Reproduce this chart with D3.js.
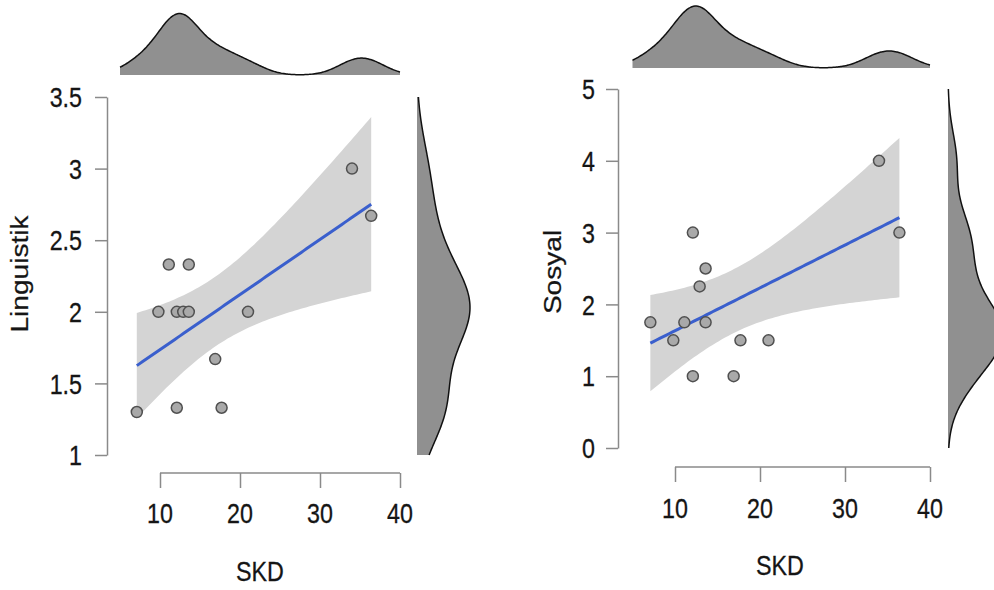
<!DOCTYPE html>
<html>
<head>
<meta charset="utf-8">
<script src="https://cdn.jsdelivr.net/npm/d3@7/dist/d3.min.js"></script>
<style>
  html, body { margin: 0; padding: 0; background: #ffffff; }
  svg { display: block; }
  text { font-family: "Liberation Sans", Arial, Helvetica, sans-serif; fill: #151515; }
</style>
</head>
<body>
<svg id="chart" width="994" height="590"></svg>
<script>
// ---- data ----
const skd        = [7.1, 9.8, 11.1, 12.1, 12.1, 12.9, 13.6, 13.6, 16.9, 17.7, 21.0, 34.0, 36.4];
const linguistik = [1.30, 2.00, 2.33, 2.00, 1.33, 2.00, 2.33, 2.00, 1.67, 1.33, 2.00, 3.00, 2.67];
const sosyal     = [1.75, 1.50, 1.75, 3.00, 1.00, 2.25, 2.50, 1.75, 1.00, 1.50, 1.50, 4.00, 3.00];
const xTicks     = [10, 20, 30, 40];
const yTicksLing = [1, 1.5, 2, 2.5, 3, 3.5];
const yTicksSos  = [0, 1, 2, 3, 4, 5];
const xLabel = "SKD";

const svg = d3.select("#chart");
const SX = 0.97, SY = 1.17, FS = 24;
const axisColor = "#8a8a8a";

function label(g, x, y, str, anchor, rot) {
  g.append("text")
    .attr("transform", `translate(${x},${y}) scale(${SX},${SY})` + (rot ? " rotate(-90)" : ""))
    .attr("text-anchor", anchor)
    .attr("dy", "0.36em")
    .style("font-size", FS + "px")
    .style("stroke", "#151515")
    .style("stroke-width", 0.25)
    .text(str);
}

// R bw.nrd0
function bwNrd0(v) {
  const s = d3.sort(v);
  const sd = d3.deviation(s);
  const iqr = d3.quantile(s, 0.75) - d3.quantile(s, 0.25);
  const lo = Math.min(sd, iqr / 1.34);
  return 0.9 * lo * Math.pow(v.length, -0.2);
}
function kde(v, lo, hi, n) {
  const bw = bwNrd0(v);
  const k = 1 / (v.length * bw * Math.sqrt(2 * Math.PI));
  return d3.range(n + 1).map(i => {
    const x = lo + (hi - lo) * i / n;
    const d = d3.sum(v, xi => Math.exp(-0.5 * ((x - xi) / bw) ** 2)) * k;
    return [x, d];
  });
}

function panel(cfg) {
  const g = svg.append("g");
  const x = d3.scaleLinear().domain([5, 40]).range(cfg.xRange);
  const y = d3.scaleLinear().domain(cfg.yDomain).range(cfg.yRange);
  const ys = cfg.yVals;

  // regression + 95% CI
  const mx = d3.mean(skd), my = d3.mean(ys);
  const sxx = d3.sum(skd, v => (v - mx) ** 2);
  const sxy = d3.sum(skd, (v, i) => (v - mx) * (ys[i] - my));
  const b = sxy / sxx, a = my - b * mx;
  const n = skd.length;
  const s = Math.sqrt(d3.sum(skd, (v, i) => (ys[i] - (a + b * v)) ** 2) / (n - 2));
  const tq = 2.201; // t(0.975, df = 11)
  const x0 = d3.min(skd), x1 = d3.max(skd);
  const grid = d3.range(81).map(i => x0 + (x1 - x0) * i / 80);
  const band = grid.map(v => {
    const fit = a + b * v;
    const se = s * Math.sqrt(1 / n + (v - mx) ** 2 / sxx);
    return { v, fit, lo: fit - tq * se, hi: fit + tq * se };
  });

  g.append("path")
    .datum(band)
    .attr("d", d3.area().x(d => x(d.v)).y0(d => y(d.lo)).y1(d => y(d.hi)))
    .attr("fill", "#d4d4d4");

  g.append("path")
    .datum(band)
    .attr("d", d3.line().x(d => x(d.v)).y(d => y(d.fit)))
    .attr("fill", "none")
    .attr("stroke", "#3a5fcd")
    .attr("stroke-width", 3);

  g.selectAll("circle.pt")
    .data(skd.map((v, i) => [v, ys[i]]))
    .join("circle")
    .attr("class", "pt")
    .attr("cx", d => x(d[0]))
    .attr("cy", d => y(d[1]))
    .attr("r", 5.5)
    .attr("fill", "#a9a9a9")
    .attr("stroke", "#505050")
    .attr("stroke-width", 1.5);

  // y axis
  const yAx = g.append("g")
    .attr("transform", `translate(${cfg.yAxisX},0)`)
    .call(d3.axisLeft(y).tickValues(cfg.yTicks).tickSize(12).tickSizeOuter(0).tickFormat(() => ""));
  yAx.selectAll("path, line").attr("stroke", axisColor).attr("stroke-width", 1.5);
  cfg.yTicks.forEach(t => label(g, cfg.yLabelX, y(t), d3.format("~g")(t), "end"));

  // x axis
  const xAx = g.append("g")
    .attr("transform", `translate(0,${cfg.xAxisY})`)
    .call(d3.axisBottom(x).tickValues(xTicks).tickSize(15).tickSizeOuter(0).tickFormat(() => ""));
  xAx.select("path.domain").attr("d", `M${x(xTicks[0])},0H${x(xTicks[xTicks.length - 1])}`);
  xAx.selectAll("path, line").attr("stroke", axisColor).attr("stroke-width", 1.5);
  xTicks.forEach(t => label(g, x(t), cfg.xLabelY, String(t), "middle"));

  label(g, cfg.xTitle[0], cfg.xTitle[1], xLabel, "middle");
  label(g, cfg.yTitle[0], cfg.yTitle[1], cfg.yName, "middle", true);

  // top marginal density of SKD
  const dx = kde(skd, 5, 40, 200);
  const hx = d3.scaleLinear().domain([0, d3.max(dx, d => d[1])]).range([cfg.topBase, cfg.topBase - cfg.topH]);
  g.append("path").datum(dx)
    .attr("d", d3.area().x(d => x(d[0])).y0(cfg.topBase).y1(d => hx(d[1])).curve(d3.curveBasis))
    .attr("fill", "#909090");
  g.append("path").datum(dx)
    .attr("d", d3.line().x(d => x(d[0])).y(d => hx(d[1])).curve(d3.curveBasis))
    .attr("fill", "none").attr("stroke", "#111").attr("stroke-width", 1.5);

  // right marginal density of y
  const dy = kde(ys, cfg.yDomain[0], cfg.yDomain[1], 200);
  const wy = d3.scaleLinear().domain([0, d3.max(dy, d => d[1])]).range([cfg.rightBase, cfg.rightBase + cfg.rightW]);
  g.append("path").datum(dy)
    .attr("d", d3.area().y(d => y(d[0])).x0(cfg.rightBase).x1(d => wy(d[1])).curve(d3.curveBasis))
    .attr("fill", "#909090");
  g.append("path").datum(dy)
    .attr("d", d3.line().y(d => y(d[0])).x(d => wy(d[1])).curve(d3.curveBasis))
    .attr("fill", "none").attr("stroke", "#111").attr("stroke-width", 1.5);
}

panel({
  yVals: linguistik, yName: "Linguistik", yTicks: yTicksLing,
  xRange: [120, 400], yDomain: [1, 3.5], yRange: [455, 97],
  yAxisX: 107, yLabelX: 82, xAxisY: 473, xLabelY: 513,
  xTitle: [260, 571], yTitle: [20, 274],
  topBase: 75, topH: 61.5, rightBase: 417, rightW: 53
});
panel({
  yVals: sosyal, yName: "Sosyal", yTicks: yTicksSos,
  xRange: [632.5, 930], yDomain: [0, 5], yRange: [448, 89],
  yAxisX: 618, yLabelX: 595, xAxisY: 467, xLabelY: 508,
  xTitle: [780, 565], yTitle: [553, 272],
  topBase: 68, topH: 62, rightBase: 948, rightW: 55
});
</script>
</body>
</html>
